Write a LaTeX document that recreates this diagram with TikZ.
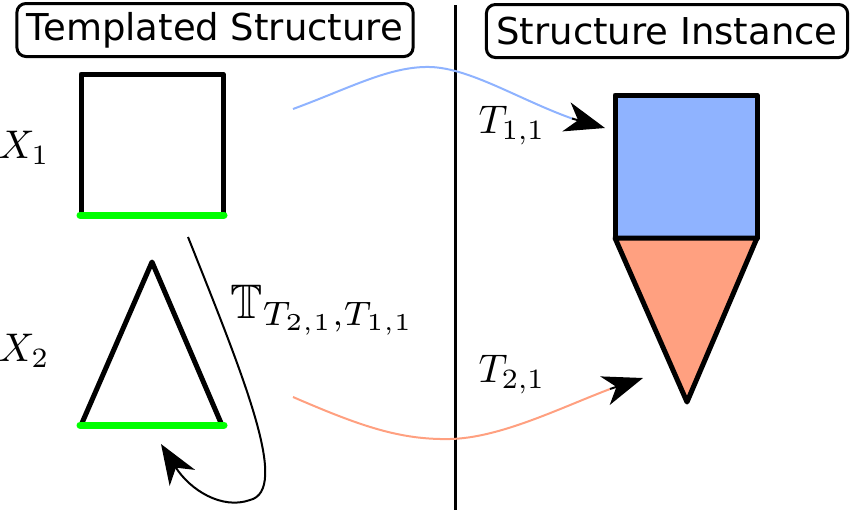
\documentclass[tikz,border=0pt]{standalone}
\usepackage{amssymb}
\usepackage{fontspec}
\setsansfont{DejaVu Sans}
\usetikzlibrary{arrows.meta}
\definecolor{tblue}{RGB}{143,179,255}
\definecolor{tsalmon}{RGB}{255,160,128}
\definecolor{tgreen}{RGB}{0,255,0}
\begin{document}
\begin{tikzpicture}[x=1pt,y=-1pt,
  titlebox/.style={draw,line width=3pt,rounded corners=9pt,inner xsep=10pt,minimum height=53pt,font=\sffamily\fontsize{37}{42}\selectfont},
  mlabel/.style={inner sep=0pt,font=\normalsize,scale=4,transform shape},
  biglabel/.style={inner sep=0pt,font=\normalsize,scale=4.85,transform shape},
  shapeline/.style={line width=5pt,line join=round},
  greenline/.style={tgreen,line width=7pt,line cap=round},
  bigtip/.style={-{Stealth[length=40pt,width=30pt,inset=12pt]}},
  ]
\useasboundingbox (0,0) rectangle (851,512);
% titles
\node[titlebox] (tt) at (215,30) {Templated Structure};
\node[titlebox] (ti) at (667,31) {Structure Instance};
% divider
\coordinate (dtop) at (455,5);
\coordinate (dbot) at (455,510);
\draw[line width=3pt] (dtop) -- (dbot);
% left square
\draw[shapeline] (81,215) -- (81,74) -- (223,74) -- (223,215);
\draw[greenline] (80,215) -- (224,215);
% left triangle
\draw[shapeline] (82,423) -- (152,262) -- (221,423);
\draw[greenline] (80,425) -- (224,425);
% labels
\node[mlabel] (x1) at (24,148) {$X_1$};
\node[mlabel] (x2) at (24,351) {$X_2$};
\node[mlabel] (t11) at (512,126) {$T_{1,1}$};
\node[mlabel] (t21) at (512,375) {$T_{2,1}$};
\node[biglabel] (tt21) at (323,310) {$\mathbb{T}_{T_{2,1},T_{1,1}}$};
% right instance
\draw[shapeline,fill=tblue] (615,238) -- (615,95) -- (757,95) -- (757,238) -- cycle;
\draw[shapeline,fill=tsalmon] (615,238) -- (757,238) -- (687,402) -- cycle;
% connectors
\coordinate (b0) at (293,109);
\coordinate (b1) at (605,128);
\coordinate (b2) at (572,118.5);
\coordinate (o0) at (293,397);
\coordinate (o1) at (643,378);
\coordinate (o2) at (610,389);
\coordinate (k0) at (188,237);
\coordinate (k1) at (161,444);
\draw[tblue,line width=2pt] (b0) .. controls (350,88) and (390,66) .. (430,67) .. controls (470,68) and (520,100) .. (b2);
\draw[bigtip,black,line width=2pt] (b2) -- (b1);
\draw[tsalmon,line width=2pt] (o0) .. controls (360,426) and (400,440) .. (450,439) .. controls (500,438) and (560,408) .. (o2);
\draw[bigtip,black,line width=2pt] (o2) -- (o1);
\draw[line width=2pt,bigtip] (k0) .. controls (245,380) and (290,490) .. (250,500) .. controls (222,510) and (190,490) .. (k1);
\end{tikzpicture}
\end{document}
